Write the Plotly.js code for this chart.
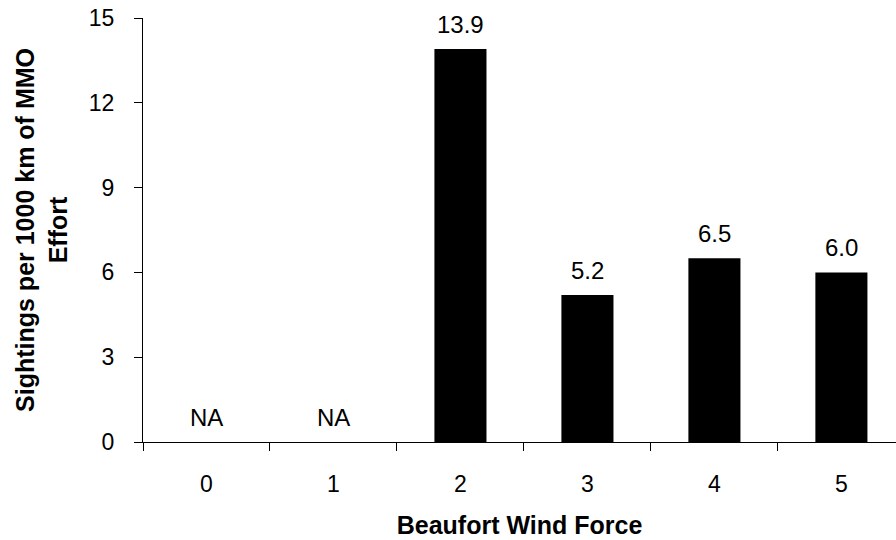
<!DOCTYPE html>
<html>
<head>
<meta charset="utf-8">
<script src="https://cdn.plot.ly/plotly-3.0.1.min.js"></script>
<style>html,body{margin:0;padding:0;background:#fff;}#chart{width:896px;height:540px;}</style>
</head>
<body>
<div id="chart"></div>
<script>
var categories = ["0", "1", "2", "3", "4", "5"];
var sightingRates = [null, null, 13.9, 5.2, 6.5, 6.0];
var labelTexts = ["NA", "NA", "13.9", "5.2", "6.5", "6.0"];
var yTickValues = [0, 3, 6, 9, 12, 15];

var font = "Arial, 'Liberation Sans', sans-serif";

var trace = {
  type: "bar",
  x: categories,
  y: sightingRates,
  width: 0.41,
  marker: {color: "#000000", line: {width: 0}},
  hoverinfo: "x+y"
};

var annotations = categories.map(function (c, i) {
  return {
    x: c,
    y: sightingRates[i] === null ? 0 : sightingRates[i],
    text: labelTexts[i],
    showarrow: false,
    yanchor: "bottom",
    xanchor: "center",
    yshift: 9,
    font: {family: font, size: 24, color: "#000"}
  };
});

var layout = {
  width: 896,
  height: 540,
  margin: {l: 143, r: 0, t: 18, b: 98},
  paper_bgcolor: "#fff",
  plot_bgcolor: "#fff",
  showlegend: false,
  font: {family: font, color: "#000"},
  xaxis: {
    type: "category",
    range: [-0.5, 5.43],
    showline: true,
    linecolor: "#000",
    linewidth: 1,
    ticks: "outside",
    tickson: "boundaries",
    ticklen: 8,
    tickcolor: "#000",
    showgrid: false,
    zeroline: false,
    ticklabelstandoff: 21,
    tickfont: {family: font, size: 23, color: "#000"},
    title: {text: "<b>Beaufort Wind Force</b>", font: {family: font, size: 25, color: "#000"}, standoff: 20}
  },
  yaxis: {
    range: [0, 15],
    tickvals: yTickValues,
    ticktext: yTickValues.map(String),
    showline: true,
    linecolor: "#000",
    linewidth: 1,
    ticks: "outside",
    ticklen: 8,
    tickcolor: "#000",
    showgrid: false,
    zeroline: false,
    ticklabelstandoff: 15,
    tickfont: {family: font, size: 23, color: "#000"},
    title: {text: "<b>Sightings per 1000 km of MMO<br>Effort</b>", font: {family: font, size: 25, color: "#000"}, standoff: 14}
  },
  annotations: annotations
};

Plotly.newPlot("chart", [trace], layout, {staticPlot: true, displayModeBar: false});
</script>
</body>
</html>
